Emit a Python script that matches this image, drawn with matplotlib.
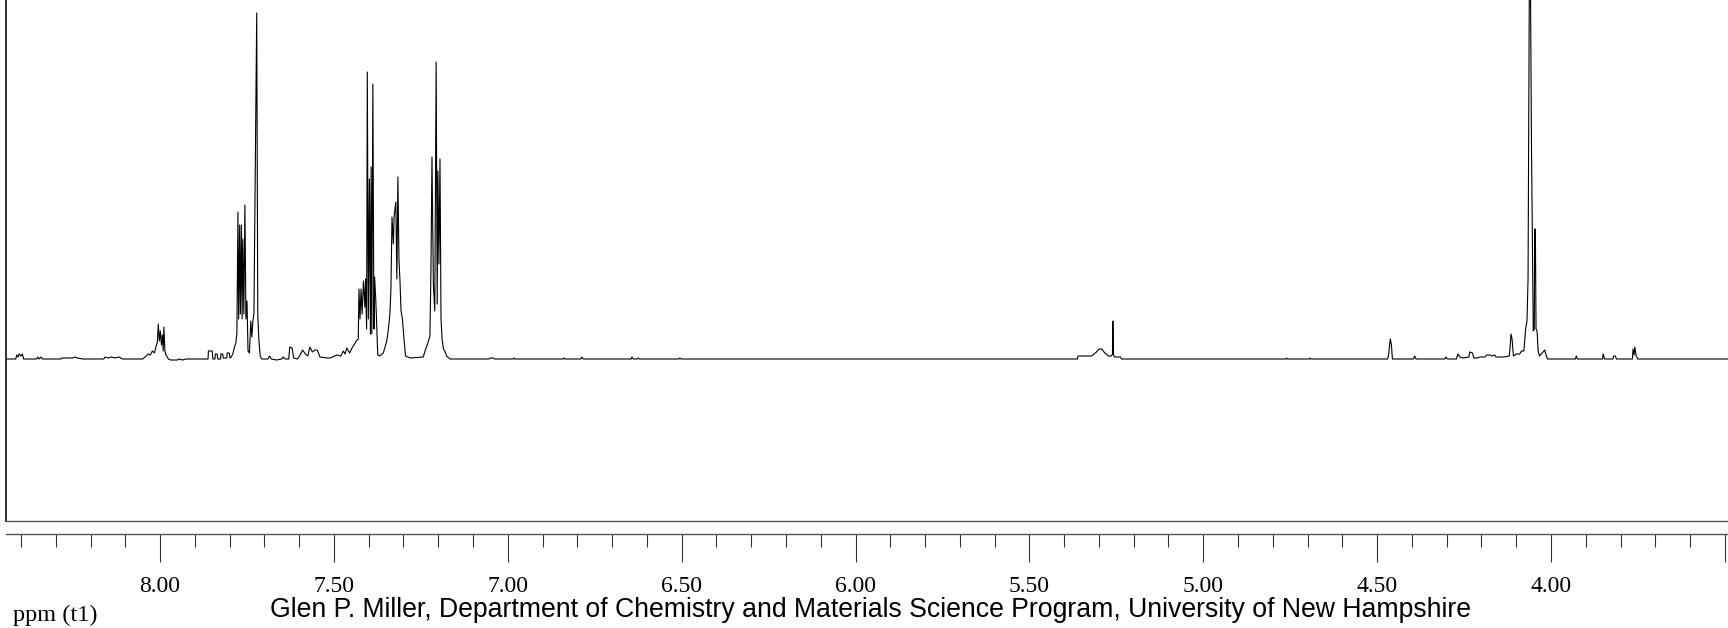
import numpy as np
import matplotlib
matplotlib.use("Agg")
import matplotlib.pyplot as plt
from matplotlib.ticker import FixedLocator, FixedFormatter, MultipleLocator

# spectrum vertices: chemical shift (ppm) and intensity (arb.)
ppm = [8.443, 8.415, 8.412, 8.408, 8.405, 8.400, 8.396, 8.392, 8.355, 8.352, 8.348, 8.342, 8.338,
       8.285, 8.282, 8.270, 8.262, 8.250, 8.245, 8.238, 8.222, 8.162, 8.158, 8.150, 8.140, 8.130,
       8.118, 8.108, 8.050, 8.040, 8.034, 8.028, 8.022, 8.016, 8.012, 8.008, 8.005, 8.002, 7.999,
       7.996, 7.993, 7.991, 7.989, 7.986, 7.983, 7.976, 7.970, 7.950, 7.945, 7.935, 7.925, 7.862,
       7.861, 7.850, 7.848, 7.842, 7.841, 7.836, 7.834, 7.826, 7.825, 7.820, 7.818, 7.808, 7.807,
       7.801, 7.799, 7.795, 7.790, 7.786, 7.782, 7.779, 7.776, 7.774, 7.771, 7.769, 7.766, 7.764,
       7.762, 7.759, 7.756, 7.753, 7.750, 7.747, 7.743, 7.739, 7.736, 7.733, 7.730, 7.722, 7.719,
       7.716, 7.712, 7.708, 7.690, 7.685, 7.680, 7.665, 7.650, 7.646, 7.640, 7.630, 7.627, 7.620,
       7.616, 7.605, 7.597, 7.590, 7.582, 7.575, 7.569, 7.562, 7.555, 7.548, 7.540, 7.520, 7.510,
       7.492, 7.480, 7.473, 7.468, 7.463, 7.455, 7.448, 7.442, 7.436, 7.430, 7.428, 7.425, 7.422,
       7.419, 7.415, 7.411, 7.409, 7.406, 7.404, 7.401, 7.398, 7.395, 7.393, 7.391, 7.388, 7.385,
       7.383, 7.380, 7.377, 7.374, 7.369, 7.358, 7.348, 7.344, 7.339, 7.336, 7.333, 7.329, 7.327,
       7.322, 7.319, 7.316, 7.313, 7.310, 7.307, 7.303, 7.298, 7.294, 7.280, 7.243, 7.238, 7.229,
       7.224, 7.221, 7.218, 7.214, 7.210, 7.206, 7.203, 7.201, 7.198, 7.195, 7.192, 7.189, 7.185,
       7.181, 7.176, 7.166, 7.140, 7.055, 7.050, 7.042, 7.038, 6.985, 6.983, 6.980, 6.840, 6.838,
       6.835, 6.790, 6.787, 6.783, 6.645, 6.643, 6.639, 6.628, 6.626, 6.622, 6.508, 6.505, 6.502,
       5.362, 5.360, 5.321, 5.307, 5.300, 5.292, 5.283, 5.273, 5.264, 5.261, 5.260, 5.258, 5.255,
       5.249, 5.238, 5.235, 4.762, 4.760, 4.758, 4.695, 4.693, 4.691, 4.470, 4.467, 4.464, 4.462,
       4.459, 4.456, 4.396, 4.392, 4.388, 4.305, 4.302, 4.298, 4.272, 4.268, 4.262, 4.252, 4.236,
       4.234, 4.226, 4.222, 4.212, 4.205, 4.190, 4.185, 4.175, 4.170, 4.162, 4.158, 4.135, 4.120,
       4.118, 4.115, 4.112, 4.108, 4.100, 4.090, 4.085, 4.078, 4.073, 4.069, 4.066, 4.061, 4.056,
       4.051, 4.048, 4.047, 4.045, 4.043, 4.040, 4.037, 4.033, 4.018, 4.015, 4.010, 3.930, 3.927,
       3.924, 3.852, 3.850, 3.846, 3.822, 3.820, 3.815, 3.812, 3.766, 3.764, 3.761, 3.759, 3.755,
       3.750, 3.491]
inten = [0, 0, 4, 2, 5, 3, 5, 0, 0, 2, 0, 2, 0,
         0, 1, 1, 1, 1, 2, 1, 0, 0, 2, 1, 2, 1,
         2, 0, 0, 3, 5, 4, 8, 6, 12, 16, 35, 18, 28,
         14, 24, 8, 32, 8, 4, 0, -1, -1, 0, -1, 0, 0,
         8, 8, 0, 0, 5, 5, 0, 0, 5, 5, 1, 1, 6,
         6, 1, 2, 6, 12, 16, 26, 147, 40, 134, 45, 134, 40,
         120, 45, 154, 40, 58, 8, 6, 38, 22, 38, 45, 346, 45,
         20, 3, 0, 0, 3, 0, -1, 0, 2, 0, 0, 12, 11,
         1, 0, 4, 9, 5, 3, 12, 7, 9, 9, 2, 1, 1,
         4, 3, 8, 5, 11, 6, 11, 14, 18, 20, 70, 40, 70,
         45, 78, 52, 80, 30, 287, 40, 180, 25, 192, 25, 275, 30,
         82, 62, 35, 4, 3, 6, 18, 28, 45, 70, 142, 115, 142,
         157, 80, 182, 100, 78, 48, 40, 18, 3, 1, 2, 8, 17,
         23, 88, 202, 75, 48, 297, 55, 188, 95, 200, 40, 20, 10,
         8, 3, 0, 0, 0, 1, 1, 0, 0, 1, 0, 0, 1,
         0, 0, 2, 0, 0, 2, 0, 0, 1, 0, 0, 1, 0,
         0, 3, 3, 7, 10, 10, 6, 3, 3, 5, 38, 4, 2,
         2, 2, 0, 0, 1, 0, 0, 1, 0, 0, 4, 15, 20,
         14, 0, 0, 3, 0, 0, 2, 0, 0, 5, 2, 1, 2,
         7, 6, 1, 1, 2, 2, 4, 4, 3, 4, 2, 2, 3,
         10, 25, 20, 3, 5, 5, 8, 8, 30, 38, 80, 480, 208,
         28, 30, 130, 130, 30, 28, 8, 3, 9, 5, 0, 0, 3,
         0, 0, 5, 0, 0, 3, 3, 0, 0, 10, 4, 12, 3,
         0, 0]

major_ticks = [8.0, 7.5, 7.0, 6.5, 6.0, 5.5, 5.0, 4.5, 4.0, 3.5]
major_labels = ["8.00", "7.50", "7.00", "6.50", "6.00", "5.50", "5.00", "4.50", "4.00", ""]

W, H = 1728, 628
fig = plt.figure(figsize=(W / 100, H / 100), dpi=100)

# spectrum frame (left + bottom only)
ax = fig.add_axes([6 / W, (H - 521) / H, 1 - 6 / W, 521 / H])
ax.plot(ppm, inten, color="black", lw=0.8)
ax.set_xlim(8.443, 3.491)
ax.set_ylim(-162, 359)
ax.set_xticks([])
ax.set_yticks([])
ax.spines["top"].set_visible(False)
ax.spines["right"].set_visible(False)
ax.spines["left"].set_linewidth(1.3)
ax.spines["left"].set_color("#222222")
ax.spines["bottom"].set_linewidth(1.0)
ax.spines["bottom"].set_color("#555555")

# ppm scale below the frame
ax2 = fig.add_axes([6 / W, (H - 534) / H, 1 - 6 / W, 0.001])
ax2.set_xlim(8.443, 3.491)
ax2.set_yticks([])
for s in ["top", "right", "left"]:
    ax2.spines[s].set_visible(False)
ax2.spines["bottom"].set_color("#555555")
ax2.spines["bottom"].set_linewidth(1.0)
ax2.patch.set_visible(False)
ax2.xaxis.set_major_locator(FixedLocator(major_ticks))
ax2.xaxis.set_major_formatter(FixedFormatter(major_labels))
ax2.xaxis.set_minor_locator(MultipleLocator(0.1))
ax2.tick_params(axis="x", which="major", direction="out", length=20, width=0.8,
                color="#333333", pad=10, labelsize=17)
ax2.tick_params(axis="x", which="minor", direction="out", length=9.5, width=0.8,
                color="#333333")
for lab in ax2.get_xticklabels():
    lab.set_fontfamily("Liberation Serif")

fig.text(13 / W, 1 - 615 / H, "ppm (t1)", family="Liberation Serif", fontsize=17.5,
         ha="left", va="center")
fig.text(871 / W, 1 - 610 / H,
         "Glen P. Miller, Department of Chemistry and Materials Science Program, University of New Hampshire",
         family="Liberation Sans", fontsize=19.2, ha="center", va="center")

fig.savefig("out.png", dpi=100)
